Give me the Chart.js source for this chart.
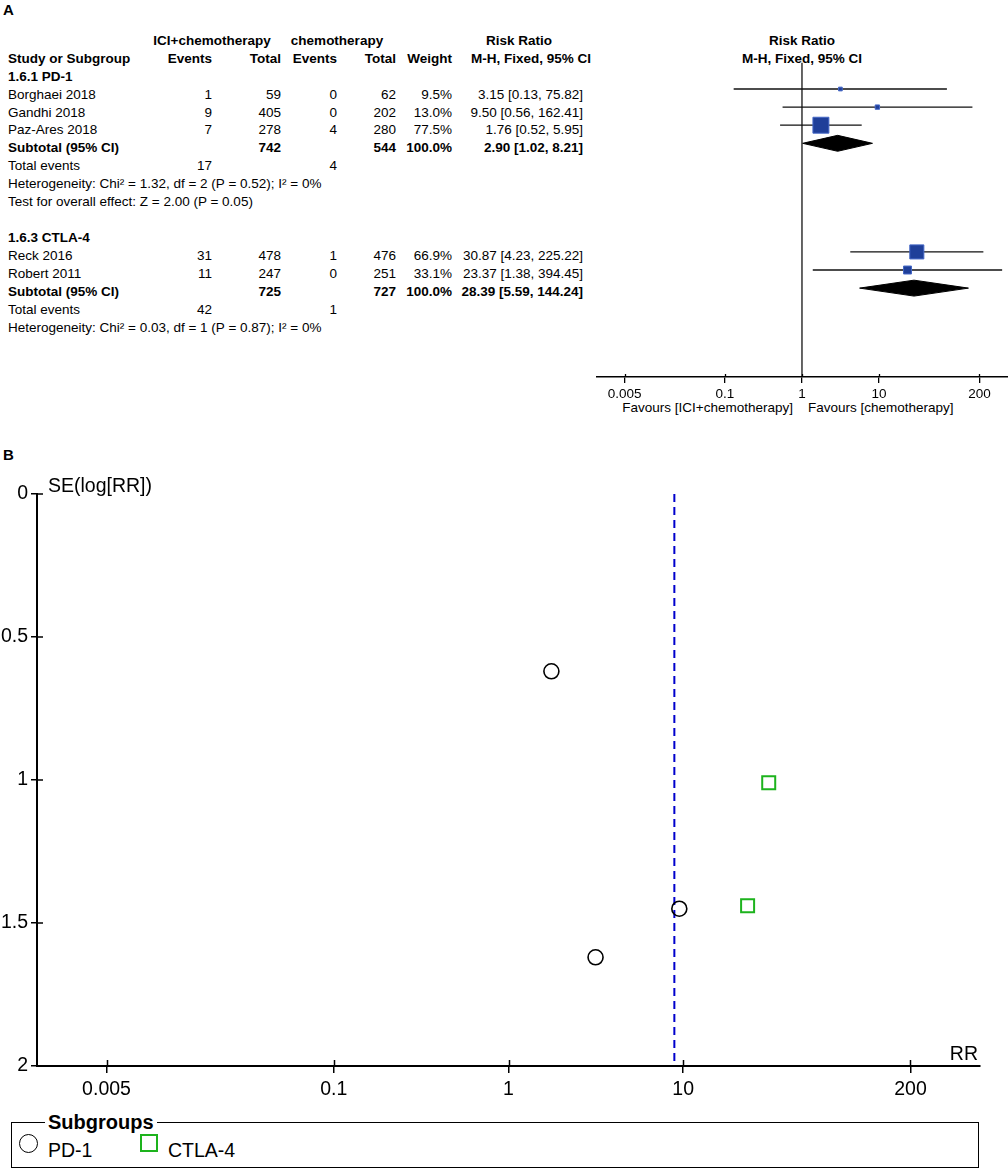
<!DOCTYPE html>
<html>
<head>
<meta charset="utf-8">
<script src="https://cdn.jsdelivr.net/npm/chart.js@4.4.1/dist/chart.umd.min.js"></script>
<style>
  html, body { margin: 0; padding: 0; background: #fff; }
  body { width: 1008px; height: 1169px; position: relative; overflow: hidden;
         font-family: 'Liberation Sans', Arial, sans-serif; color: #000; }
  .t { position: absolute; white-space: nowrap; font-size: 13.5px; line-height: 18px; }
  .b { font-weight: bold; }
  .big { font-size: 19.5px; line-height: 22px; }
  canvas { position: absolute; }
  #legendBox { position: absolute; left: 11px; top: 1122px; width: 966px; height: 44px; border: 1.5px solid #000; }
</style>
</head>
<body>
<div class="t b" style="left:3px;top:1px;font-size:15px;">A</div>
<div class="t b" style="left:3px;top:446px;font-size:15px;">B</div>
<div id="tabla"></div>
<canvas id="forest" width="412" height="380" style="left:596px;top:30px;"></canvas>
<canvas id="funnel" width="1008" height="650" style="left:0;top:460px;"></canvas>
<div class="t big" style="left:48px;top:474px;">SE(log[RR])</div>
<div class="t big" style="left:778px;top:1042px;width:200px;text-align:right;">RR</div>
<div id="legendBox"></div>
<div id="leyenda"></div>

<script>
// datos del forest plot
const groupLabels = ['1.6.1 PD-1', '1.6.3 CTLA-4'];
const subgroupNames = ['PD-1', 'CTLA-4'];
const studyNames = ['Borghaei 2018', 'Gandhi 2018', 'Paz-Ares 2018', 'Reck 2016', 'Robert 2011'];
const studyGroup = [0, 0, 0, 1, 1];
const iciEvents = [1, 9, 7, 31, 11];
const iciTotal = [59, 405, 278, 478, 247];
const chemoEvents = [0, 0, 4, 1, 0];
const chemoTotal = [62, 202, 280, 476, 251];
const weights = [9.5, 13.0, 77.5, 66.9, 33.1];
const rr = [3.15, 9.50, 1.76, 30.87, 23.37];
const ciLow = [0.13, 0.56, 0.52, 4.23, 1.38];
const ciHigh = [75.82, 162.41, 5.95, 225.22, 394.45];

const subIciTotal = [742, 725];
const subChemoTotal = [544, 727];
const subRR = [2.90, 28.39];
const subLow = [1.02, 5.59];
const subHigh = [8.21, 144.24];
const totalEventsIci = [17, 42];
const totalEventsChemo = [4, 1];
const heterogeneity = [
  'Heterogeneity: Chi² = 1.32, df = 2 (P = 0.52); I² = 0%',
  'Heterogeneity: Chi² = 0.03, df = 1 (P = 0.87); I² = 0%'
];
const overallTest = ['Test for overall effect: Z = 2.00 (P = 0.05)', null];

const rrTicks = [0.005, 0.1, 1, 10, 200];

// datos del funnel plot
const seLogRR = [1.62, 1.45, 0.62, 1.01, 1.44];
const seTicks = [0, 0.5, 1, 1.5, 2];
const funnelLineRR = 8.9;

const FONT = "'Liberation Sans', Arial, sans-serif";

// filas de la tabla
const rows = [];
groupLabels.forEach((g, gi) => {
  rows.push({ kind: 'group', gi });
  studyNames.forEach((s, i) => { if (studyGroup[i] === gi) rows.push({ kind: 'study', i }); });
  rows.push({ kind: 'subtotal', gi });
  rows.push({ kind: 'events', gi });
  rows.push({ kind: 'het', gi });
  if (overallTest[gi]) rows.push({ kind: 'test', gi });
  if (gi < groupLabels.length - 1) rows.push({ kind: 'blank' });
});
const FIRST_ROW = 2;

const tabla = document.getElementById('tabla');
function cell(text, row, x, align, bold) {
  const d = document.createElement('div');
  d.className = 't' + (bold ? ' b' : '');
  d.textContent = text;
  const top = 40.7 + 17.95 * row - 9;
  d.style.top = top + 'px';
  if (align === 'right') { d.style.left = (x - 300) + 'px'; d.style.width = '300px'; d.style.textAlign = 'right'; }
  else if (align === 'center') { d.style.left = (x - 150) + 'px'; d.style.width = '300px'; d.style.textAlign = 'center'; }
  else d.style.left = x + 'px';
  tabla.appendChild(d);
}
const fmtCI = (e, l, h) => `${e.toFixed(2)} [${l.toFixed(2)}, ${h.toFixed(2)}]`;

cell('ICI+chemotherapy', 0, 212, 'center', true);
cell('chemotherapy', 0, 337, 'center', true);
cell('Risk Ratio', 0, 519, 'center', true);
cell('Risk Ratio', 0, 802, 'center', true);
cell('Study or Subgroup', 1, 8, 'left', true);
cell('Events', 1, 212, 'right', true);
cell('Total', 1, 281, 'right', true);
cell('Events', 1, 337, 'right', true);
cell('Total', 1, 396, 'right', true);
cell('Weight', 1, 452, 'right', true);
cell('M-H, Fixed, 95% CI', 1, 531, 'center', true);
cell('M-H, Fixed, 95% CI', 1, 802, 'center', true);

const studyRow = [], subRow = [];
rows.forEach((r, k) => {
  const row = FIRST_ROW + k;
  if (r.kind === 'group') cell(groupLabels[r.gi], row, 8, 'left', true);
  if (r.kind === 'study') {
    const i = r.i;
    studyRow[i] = row;
    cell(studyNames[i], row, 8);
    cell(String(iciEvents[i]), row, 212, 'right');
    cell(String(iciTotal[i]), row, 281, 'right');
    cell(String(chemoEvents[i]), row, 337, 'right');
    cell(String(chemoTotal[i]), row, 396, 'right');
    cell(weights[i].toFixed(1) + '%', row, 452, 'right');
    cell(fmtCI(rr[i], ciLow[i], ciHigh[i]), row, 583, 'right');
  }
  if (r.kind === 'subtotal') {
    const g = r.gi;
    subRow[g] = row;
    cell('Subtotal (95% CI)', row, 8, 'left', true);
    cell(String(subIciTotal[g]), row, 281, 'right', true);
    cell(String(subChemoTotal[g]), row, 396, 'right', true);
    cell('100.0%', row, 452, 'right', true);
    cell(fmtCI(subRR[g], subLow[g], subHigh[g]), row, 583, 'right', true);
  }
  if (r.kind === 'events') {
    cell('Total events', row, 8);
    cell(String(totalEventsIci[r.gi]), row, 212, 'right');
    cell(String(totalEventsChemo[r.gi]), row, 337, 'right');
  }
  if (r.kind === 'het') cell(heterogeneity[r.gi], row, 8);
  if (r.kind === 'test') cell(overallTest[r.gi], row, 8);
});

// textos "Favours"
const fav1 = document.createElement('div');
fav1.className = 't'; fav1.textContent = 'Favours [ICI+chemotherapy]';
fav1.style.cssText = 'left:493px;width:300px;text-align:right;top:399px;';
tabla.appendChild(fav1);
const fav2 = document.createElement('div');
fav2.className = 't'; fav2.textContent = 'Favours [chemotherapy]';
fav2.style.cssText = 'left:808px;top:399px;';
tabla.appendChild(fav2);

// marcas de eje que cruzan la línea
const crossTicks = {
  id: 'crossTicks',
  afterDraw(chart, args, opts) {
    const ctx = chart.ctx;
    ctx.save();
    ctx.strokeStyle = '#000';
    ctx.lineWidth = opts.width || 1.5;
    const xs = chart.scales.x;
    xs.ticks.forEach(t => {
      const px = Math.round(xs.getPixelForValue(t.value)) + 0.5;
      ctx.beginPath(); ctx.moveTo(px, xs.top); ctx.lineTo(px, xs.top - opts.inner); ctx.stroke();
    });
    const ys = chart.scales.y;
    if (ys.options.display) {
      ys.ticks.forEach(t => {
        const py = ys.getPixelForValue(t.value);
        ctx.beginPath(); ctx.moveTo(ys.right, py); ctx.lineTo(ys.right + opts.inner, py); ctx.stroke();
      });
    }
    ctx.restore();
  }
};

function renderForest() {
  const ctx = document.getElementById('forest');
  const datasets = [];

  datasets.push({
    data: rr.map((v, i) => ({ x: v, y: studyRow[i] })),
    pointStyle: 'rect',
    pointRadius: weights.map(w => (2 + 0.18 * w) / Math.SQRT2),
    backgroundColor: '#1f3f99',
    borderColor: '#4467c6',
    borderWidth: 1,
    order: 0
  });

  rr.forEach((v, i) => {
    datasets.push({
      data: [{ x: ciLow[i], y: studyRow[i] }, { x: ciHigh[i], y: studyRow[i] }],
      showLine: true, pointRadius: 0, borderColor: '#111', borderWidth: 1.3, order: 2
    });
  });

  subRR.forEach((v, g) => {
    const r = subRow[g], h = 0.44;
    datasets.push({
      data: [
        { x: subLow[g], y: r }, { x: v, y: r - h }, { x: subHigh[g], y: r },
        { x: v, y: r + h }, { x: subLow[g], y: r }
      ],
      showLine: true, pointRadius: 0, borderColor: '#000', borderWidth: 1,
      backgroundColor: '#000', fill: 'shape', tension: 0, order: 1
    });
  });

  datasets.push({
    data: [{ x: 1, y: 1.55 }, { x: 1, y: 18.91 }],
    showLine: true, pointRadius: 0, borderColor: '#000', borderWidth: 1.2, order: 3
  });

  new Chart(ctx, {
    type: 'scatter',
    data: { datasets },
    options: {
      responsive: false,
      animation: false,
      layout: { padding: 0, autoPadding: false },
      plugins: { legend: { display: false }, tooltip: { enabled: false }, crossTicks: { inner: 3, width: 1.3 } },
      scales: {
        x: {
          type: 'logarithmic',
          min: 0.00213,
          max: 470,
          afterBuildTicks: axis => { axis.ticks = rrTicks.map(v => ({ value: v })); },
          afterFit: s => { s.height = 33; },
          ticks: {
            autoSkip: false, maxRotation: 0, color: '#000', padding: 3,
            font: { family: FONT, size: 13.5 },
            callback: v => String(v)
          },
          grid: { display: true, drawOnChartArea: false, color: '#000', tickLength: 6, lineWidth: 1.3 },
          border: { display: true, color: '#000', width: 1.5 }
        },
        y: { display: false, min: -0.26, max: 18.91, reverse: true }
      }
    },
    plugins: [crossTicks]
  });
}

function renderFunnel() {
  const ctx = document.getElementById('funnel');
  const pd1 = [], ctla = [];
  rr.forEach((v, i) => {
    const p = { x: v, y: seLogRR[i] };
    if (studyGroup[i] === 0) pd1.push(p); else ctla.push(p);
  });

  new Chart(ctx, {
    type: 'scatter',
    data: {
      datasets: [
        {
          label: subgroupNames[0], data: pd1, pointStyle: 'circle', pointRadius: 7.5,
          borderColor: '#000', borderWidth: 1.6, backgroundColor: 'rgba(0,0,0,0)', order: 0
        },
        {
          label: subgroupNames[1], data: ctla, pointStyle: 'rect', pointRadius: 13 / Math.SQRT2,
          borderColor: '#1db31d', borderWidth: 2, backgroundColor: 'rgba(0,0,0,0)', order: 0
        },
        {
          label: 'RR', data: [{ x: funnelLineRR, y: 0 }, { x: funnelLineRR, y: 2 }],
          showLine: true, pointRadius: 0, borderColor: '#0000cc', borderWidth: 2,
          borderDash: [8, 5], order: 1
        }
      ]
    },
    options: {
      responsive: false,
      animation: false,
      layout: { padding: { top: 34, right: 28, left: 0, bottom: 0 }, autoPadding: false },
      plugins: { legend: { display: false }, tooltip: { enabled: false }, crossTicks: { inner: 6, width: 1.5 } },
      scales: {
        x: {
          type: 'logarithmic',
          min: 0.002,
          max: 500,
          afterBuildTicks: axis => { axis.ticks = rrTicks.map(v => ({ value: v })); },
          afterFit: s => { s.height = 44; },
          ticks: {
            autoSkip: false, maxRotation: 0, color: '#000', padding: 5,
            font: { family: FONT, size: 19.5 },
            callback: v => String(v)
          },
          grid: { display: true, drawOnChartArea: false, color: '#000', tickLength: 7, lineWidth: 1.5 },
          border: { display: true, color: '#000', width: 2 }
        },
        y: {
          min: 0,
          max: 2,
          reverse: true,
          afterBuildTicks: axis => { axis.ticks = seTicks.map(v => ({ value: v })); },
          afterFit: s => { s.width = 37; },
          ticks: {
            autoSkip: false, color: '#000', padding: 3,
            font: { family: FONT, size: 19.5 },
            callback: v => String(v)
          },
          grid: { display: true, drawOnChartArea: false, color: '#000', tickLength: 6, lineWidth: 1.5 },
          border: { display: true, color: '#000', width: 2 }
        }
      }
    },
    plugins: [crossTicks]
  });
}

// leyenda de subgrupos
function renderLeyenda() {
  const cont = document.getElementById('leyenda');
  const title = document.createElement('div');
  title.className = 't b';
  title.textContent = 'Subgroups';
  title.style.cssText = 'left:45px;top:1111px;font-size:20px;line-height:22px;background:#fff;padding:0 3px;';
  cont.appendChild(title);
  const marks = [
    'left:19px;top:1134px;width:17px;height:17px;border:1.8px solid #000;border-radius:50%;',
    'left:140px;top:1134px;width:14px;height:14px;border:2px solid #1db31d;'
  ];
  const textLeft = [48, 168];
  subgroupNames.forEach((n, i) => {
    const m = document.createElement('div');
    m.style.cssText = 'position:absolute;' + marks[i];
    cont.appendChild(m);
    const t = document.createElement('div');
    t.className = 't big';
    t.textContent = n;
    t.style.left = textLeft[i] + 'px';
    t.style.top = '1139px';
    cont.appendChild(t);
  });
}

renderForest();
renderFunnel();
renderLeyenda();
</script>
</body>
</html>
